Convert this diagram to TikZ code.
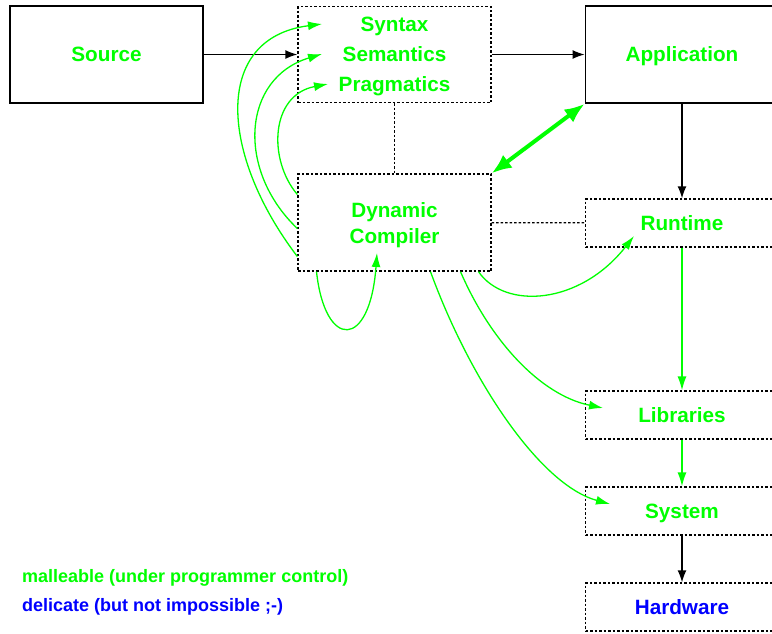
\documentclass[tikz,border=0pt]{standalone}
\usepackage{fontspec}
\setmainfont{Liberation Sans}
\usetikzlibrary{arrows.meta}
\tikzset{%
	hard/.style = {draw,line width=1.8pt,minimum width=193pt,minimum height=97pt,inner sep=0},
	soft/.style = {draw,line width=1.3pt,dash pattern=on 2.5pt off 2pt,minimum width=193pt,inner sep=0},
	txt/.style = {text=green,font=\bfseries\fontsize{20.7}{26}\selectfont,inner sep=0,align=center,text height=14pt,text depth=0pt},
	note/.style = {anchor=west,inner sep=0,font=\bfseries\fontsize{18}{22}\selectfont},
	flow/.style = {-{Latex[length=12pt,width=9pt]},line width=1.4pt},
	bent/.style = {green,-{Latex[length=14pt,width=9pt]},line width=1.3pt}%
}
\begin{document}
\begin{tikzpicture}[x=1pt,y=-1pt]
			\clip(0,0)rectangle(772,633);
			% top row
			\node(src)[hard,txt]at(106.5,54.5){Source};
			\node(lang)[soft,minimum height=96pt]at(394.5,54.5){};
			\node(syn)[txt]at(394.5,24){Syntax};
			\node(sem)[txt]at(394.5,54){Semantics};
			\node(prag)[txt]at(394.5,84){Pragmatics};
			\node(app)[hard,txt]at(682,54.5){Application};
			% compiler and lower layers
			\node(dyn)[soft,minimum height=97pt]at(394.5,222.5){};
			\node[txt]at(394.5,210){Dynamic};
			\node[txt]at(394.5,236){Compiler};
			\node(run)[soft,txt,minimum height=48pt]at(682,223){Runtime};
			\node(lib)[soft,txt,minimum height=48pt]at(682,415){Libraries};
			\node(sys)[soft,txt,minimum height=48pt]at(682,511){System};
			\node(hw)[soft,txt,text=blue,minimum height=48pt]at(682,607){Hardware};
			\node(green)[note,text=green]at(22,578){malleable (under programmer control)};
			\node(blue)[note,text=blue]at(22,607){delicate (but not impossible ;-)};
			% arrow ends
			\coordinate(synIn)at(322,24);
			\coordinate(semIn)at(322,54);
			\coordinate(pragIn)at(328,84);
			\coordinate(loopIn)at(377,253);
			\coordinate(runIn)at(634,236);
			\coordinate(libIn)at(603,408);
			\coordinate(sysIn)at(610,504);
			% black flow
			\draw[flow](src)--(lang);
			\draw[flow](lang)--(app);
			\draw[flow](app)--(run);
			\draw[flow](sys)--(hw);
			\draw[bent](run)--(lib);
			\draw[bent](lib)--(sys);
			% dotted links
			\draw[line width=1.3pt,dash pattern=on 2.5pt off 2pt](lang)--(dyn);
			\draw[line width=1.3pt,dash pattern=on 2.5pt off 2pt](dyn)--(run);
			\draw[green,line width=4pt,{Latex[length=20pt,width=16pt]}-{Latex[length=20pt,width=16pt]}](dyn.north east)--(app.south west);
			% green curves
			\draw[bent]([yshift=-34]dyn.west)..controls(220,155)and(212,38)..(synIn);
			\draw[bent]([yshift=-6]dyn.west)..controls(236,170)and(242,78)..(semIn);
			\draw[bent]([yshift=28]dyn.west)..controls(268,160)and(270,95)..(pragIn);
			\draw[bent]([xshift=-78]dyn.south)..controls(325,350)and(370,350)..(loopIn);
			\draw[bent]([xshift=84]dyn.south)..controls(505,310)and(580,305)..(runIn);
			\draw[bent]([xshift=66]dyn.south)..controls(490,340)and(540,395)..(libIn);
			\draw[bent]([xshift=36]dyn.south)..controls(470,380)and(540,485)..(sysIn);
\end{tikzpicture}
\end{document}
